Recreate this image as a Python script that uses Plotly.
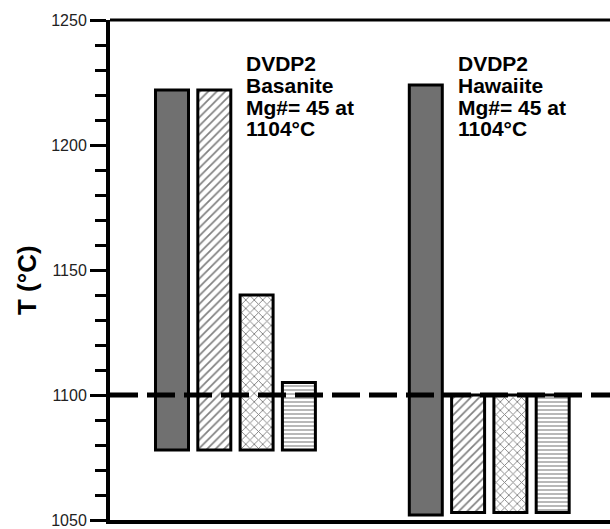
import plotly.graph_objects as go

# ---- data ----
methods = ["Method 1", "Method 2", "Method 3", "Method 4"]
basanite_top = [1222, 1222, 1140, 1105]
basanite_bottom = [1078, 1078, 1078, 1078]
hawaiite_top = [1224, 1100, 1100, 1100]
hawaiite_bottom = [1052, 1053, 1053, 1053]
reference_temp = 1100
y_range = [1050, 1250]
y_major_ticks = [1050, 1100, 1150, 1200, 1250]
basanite_label = ["DVDP2", "Basanite", "Mg#= 45 at", "1104°C"]
hawaiite_label = ["DVDP2", "Hawaiite", "Mg#= 45 at", "1104°C"]

# ---- styles ----
patterns = [None, "/", "x", "-"]
pattern_sizes = [6, 6, 6, 4]
FONT = "Liberation Sans, Arial, Helvetica, sans-serif"

fig = go.Figure()

groups = [(0, basanite_top, basanite_bottom), (6, hawaiite_top, hawaiite_bottom)]
for offset, tops, bottoms in groups:
    for i, m in enumerate(methods):
        if patterns[i] is None:
            marker = dict(color="#707070", line=dict(color="black", width=3))
        else:
            marker = dict(
                color="white",
                line=dict(color="black", width=3),
                pattern=dict(shape=patterns[i], fgcolor="#808080", bgcolor="white",
                             size=pattern_sizes[i], solidity=0.28, fillmode="replace"),
            )
        fig.add_trace(go.Bar(
            x=[offset + i], y=[tops[i] - bottoms[i]], base=[bottoms[i]],
            width=0.78, marker=marker, showlegend=False, name=m,
        ))

XR = [-1.466, 10.355]

# dashed reference line at 1100 °C
fig.add_trace(go.Scatter(
    x=XR, y=[reference_temp, reference_temp], mode="lines",
    line=dict(color="black", width=5, dash="28px,9px"), showlegend=False,
))

# text labels, one line per annotation for tight leading
def add_label(lines, xpaper):
    for k, t in enumerate(lines):
        fig.add_annotation(
            x=xpaper, y=1232.5 - k * 8.65, xref="paper", yref="y",
            text=t, showarrow=False, xanchor="left", yanchor="middle",
            font=dict(family=FONT, size=21, color="black", weight="bold"),
        )

add_label(basanite_label, 0.268)
add_label(hawaiite_label, 0.692)

# y axis title
fig.add_annotation(
    x=-0.166, y=0.48, xref="paper", yref="paper", text="T (°C)",
    textangle=-90, showarrow=False, xanchor="center", yanchor="middle",
    font=dict(family=FONT, size=26, color="black", weight="bold"),
)

# top border
fig.add_shape(type="line", xref="paper", yref="paper", x0=0, x1=1, y0=1, y1=1,
              line=dict(color="black", width=3))

fig.update_layout(
    width=610, height=529,
    margin=dict(l=110, r=0, t=20, b=6),
    paper_bgcolor="white", plot_bgcolor="white",
    barmode="overlay",
    xaxis=dict(range=XR, showticklabels=False, ticks="",
               showgrid=False, zeroline=False, showline=True,
               linecolor="black", linewidth=4),
    yaxis=dict(range=y_range, tickvals=y_major_ticks, ticks="outside",
               ticklen=16, tickwidth=2.5, tickcolor="black",
               showgrid=False, zeroline=False, showline=True,
               linecolor="black", linewidth=4, ticklabeloverflow="allow",
               tickfont=dict(family=FONT, size=16, color="#222"),
               minor=dict(dtick=10, ticks="outside", ticklen=11, tickwidth=2.5,
                          tickcolor="black", showgrid=False)),
)

fig.write_html("out.html", config={"displayModeBar": False},
               post_script="document.body.style.margin='0';document.body.style.overflow='hidden';")
